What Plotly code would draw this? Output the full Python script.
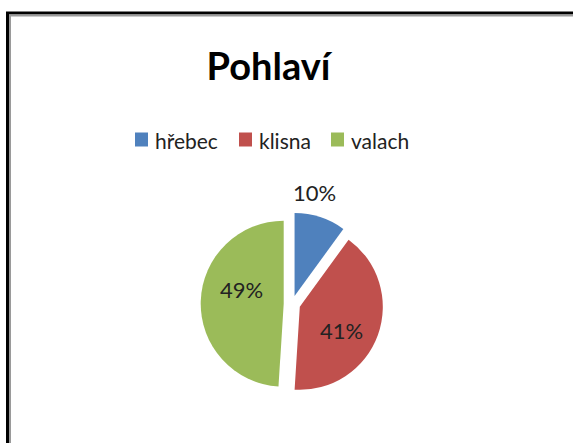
import plotly.graph_objects as go

# ---- data ----
categories = ["hřebec", "klisna", "valach"]
values = [10, 41, 49]
colors = ["#4F81BD", "#C0504D", "#9BBB59"]
title_text = "Pohlaví"

W, H = 573, 443
FONT = "Lato, 'Open Sans', sans-serif"

def px(x):
    return x / W

def py(y):
    return 1 - y / H

# pie geometry (pixels)
cx, cy, r, pull = 292, 304, 83, 0.1
half = r * (1 + pull)

fig = go.Figure()
fig.add_trace(go.Pie(
    labels=categories,
    values=values,
    marker=dict(colors=colors, line=dict(width=0)),
    pull=[pull] * len(values),
    sort=False,
    direction="clockwise",
    rotation=0,
    textinfo="none",
    showlegend=False,
    domain=dict(x=[px(cx - half), px(cx + half)], y=[py(cy + half), py(cy - half)]),
    hoverinfo="label+percent",
))

shapes = []
annotations = []
# frame (extends beyond right/bottom edge)
shapes.append(dict(type="rect", xref="paper", yref="paper",
                   x0=px(7.5), y0=py(13), x1=px(W + 20), y1=py(H + 20),
                   line=dict(color="#000000", width=3), fillcolor="rgba(0,0,0,0)"))
shapes.append(dict(type="rect", xref="paper", yref="paper",
                   x0=px(10), y0=py(15.5), x1=px(W + 20), y1=py(H + 20),
                   line=dict(color="#9a9a9a", width=2), fillcolor="rgba(0,0,0,0)"))

# custom legend
sq_x = [135, 239, 331]
for i, (name, col) in enumerate(zip(categories, colors)):
    x0 = sq_x[i]
    shapes.append(dict(type="rect", xref="paper", yref="paper",
                       x0=px(x0), x1=px(x0 + 13), y0=py(146.5), y1=py(132.5),
                       fillcolor=col, line=dict(width=0)))
    annotations.append(dict(text=name, xref="paper", yref="paper",
                            x=px(x0 + 18), y=py(141), xanchor="left", yanchor="middle",
                            showarrow=False,
                            font=dict(family=FONT, size=21, color="#222222")))

# percent labels (text computed from the values)
total = sum(values)
label_pos = [(314, 192), (341, 330), (241, 289)]
for v, (lx, ly) in zip(values, label_pos):
    annotations.append(dict(text=f"{round(100 * v / total)}%", xref="paper", yref="paper",
                            x=px(lx), y=py(ly), xanchor="center", yanchor="middle",
                            showarrow=False,
                            font=dict(family=FONT, size=22, color="#222222")))

fig.update_layout(
    width=W, height=H,
    margin=dict(l=0, r=0, t=0, b=0),
    paper_bgcolor="white",
    plot_bgcolor="white",
    title=dict(text="<b>" + title_text + "</b>", x=px(268.5), xanchor="center",
               y=py(67), yanchor="middle", yref="paper",
               font=dict(family=FONT, size=38, color="#000000")),
    shapes=shapes,
    annotations=annotations,
)

fig.write_html("out.html",
               config={"displayModeBar": False},
               post_script="document.body.style.margin='0';document.body.style.padding='0';")
